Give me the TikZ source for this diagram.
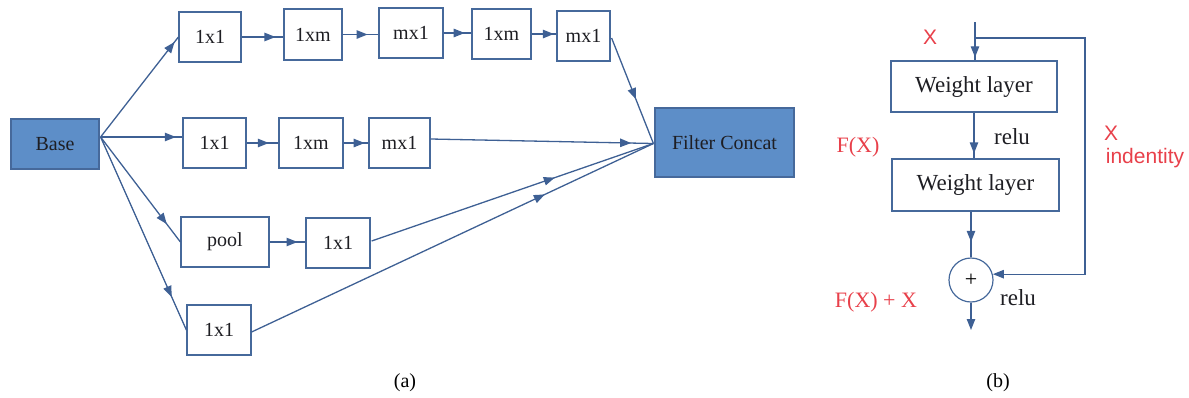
\documentclass[tikz,border=0pt]{standalone}
\usepackage{fontspec}
\setmainfont{Liberation Serif}
\newfontfamily\lsans{Liberation Sans}
\usetikzlibrary{arrows.meta,decorations.markings,calc}
\definecolor{lineblue}{RGB}{62,96,148}
\definecolor{boxblue}{RGB}{70,105,155}
\definecolor{basefill}{RGB}{93,142,200}
\definecolor{lblred}{RGB}{232,64,74}
\definecolor{txt}{RGB}{30,30,35}
\begin{document}
\begin{tikzpicture}[x=0.5pt,y=-0.5pt,
 sz/.style 2 args={minimum width=#1*0.5pt,minimum height=#2*0.5pt},
 box/.style={draw=boxblue,line width=0.6pt,inner sep=0pt,text=txt,font=\fontsize{10}{12}\selectfont},
 filled/.style={box,fill=basefill,draw=boxblue},
 wbox/.style={box,font=\fontsize{11.5}{13}\selectfont},
 link/.style={color=lineblue,line width=0.65pt},
 midarr/.style={link,postaction={decorate},decoration={markings,mark=at position #1 with {\arrow{Triangle[length=5.5pt,width=4.2pt]}}}},
 endarr/.style={link,-{Triangle[length=5.5pt,width=4.2pt]}},
 redlbl/.style={text=lblred,font=\fontsize{11}{13}\selectfont,inner sep=0pt},
 redsans/.style={text=lblred,font=\lsans\fontsize{10.5}{13}\selectfont,inner sep=0pt},
 blk/.style={text=txt,font=\fontsize{11.5}{13}\selectfont,inner sep=0pt},
 captxt/.style={text=black,font=\fontsize{10}{12}\selectfont,inner sep=0pt}]
\useasboundingbox (0,0) rectangle (1189,397);

% (a)
\node[filled,sz={88}{50}] (base) at (55,144) {Base};
\node[box,sz={62}{50}] (t1) at (210,37) {1x1};
\node[box,sz={58}{51}] (t2) at (313,34.5) {1xm};
\node[box,sz={64}{50}] (t3) at (411,33) {mx1};
\node[box,sz={59}{50}] (t4) at (501.5,34) {1xm};
\node[box,sz={53}{50}] (t5) at (583.5,36) {mx1};
\node[box,sz={63}{50}] (m1) at (214.5,143) {1x1};
\node[box,sz={64}{50}] (m2) at (311,143) {1xm};
\node[box,sz={61}{50}] (m3) at (399.5,143) {mx1};
\node[box,sz={88}{50}] (p1) at (225,242) {pool};
\node[box,sz={64}{50}] (p2) at (338,243) {1x1};
\node[box,sz={64}{50}] (b1) at (219,330) {1x1};
\node[filled,sz={139}{69}] (fc) at (724.5,142.5) {Filter Concat};

\coordinate (bo) at ($(base.east)+(1,-7)$);
\coordinate (fi) at ($(fc.west)+(-1,1)$);

\draw[midarr=0.95] (bo) -- (t1.west);
\draw[midarr=0.92] (bo) -- ($(m1.west)+(0,-6)$);
\draw[midarr=0.83] (bo) -- (p1.west);
\draw[midarr=0.83] (bo) -- (b1.west);

\draw[midarr=0.81] (t1.east) -- (t1.east -| t2.west);
\draw[midarr=0.70] (t2.east) -- (t2.east -| t3.west);
\draw[midarr=0.76] (t3.east) -- (t3.east -| t4.west);
\draw[midarr=0.90] (t4.east) -- (t4.east -| t5.west);
\draw[midarr=0.70] (m1.east) -- (m1.east -| m2.west);
\draw[midarr=0.85] (m2.east) -- (m2.east -| m3.west);
\draw[midarr=0.78] (p1.east) -- (p1.east -| p2.west);

\draw[midarr=0.58] ($(t5.east)+(1,2)$) -- (fi);
\draw[midarr=0.90] ($(m3.east)+(0,-4)$) -- (fi);
\draw[midarr=0.65] ($(p2.east)+(1,-2)$) -- (fi);
\draw[midarr=0.73] ($(b1.east)+(0,2)$) -- (fi);

\node[captxt] (ca) at (405,383) {(a)};

% (b)
\node[wbox,sz={166}{51}] (w1) at (974,86.5) {Weight layer};
\node[wbox,sz={167}{52}] (w2) at (975.5,185) {Weight layer};
\node[circle,draw=boxblue,line width=0.6pt,minimum size=22pt,inner sep=0pt,text=black,font=\fontsize{11}{13}\selectfont] (add) at (971,280) {+};
\coordinate (xin) at (975,22);
\coordinate (split) at (975,38);
\coordinate (sk) at (1085,38);
\coordinate (out) at (971,330);

\draw[midarr=0.92] (xin) -- (xin |- w1.north);
\draw[endarr] (split) -- (sk) |- (add.15);
\draw[midarr=0.89] (w1.south) -- (w1.south |- w2.north);
\draw[midarr=0.66] (add.north |- w2.south) -- (add.north);
\draw[endarr] (add.south) -- (out);

\node[redsans] (lx) at (930,37) {X};
\node[blk] (r1) at (1012,137) {relu};
\node[redlbl] (fx) at (858,147) {F(X)};
\node[redsans] (x2) at (1111,133) {X};
\node[redsans] (ind) at (1145,158) {indentity};
\node[redlbl] (fxx) at (876,302) {F(X) + X};
\node[blk] (r2) at (1018,298) {relu};
\node[captxt] (cb) at (998,383) {(b)};
\end{tikzpicture}
\end{document}
